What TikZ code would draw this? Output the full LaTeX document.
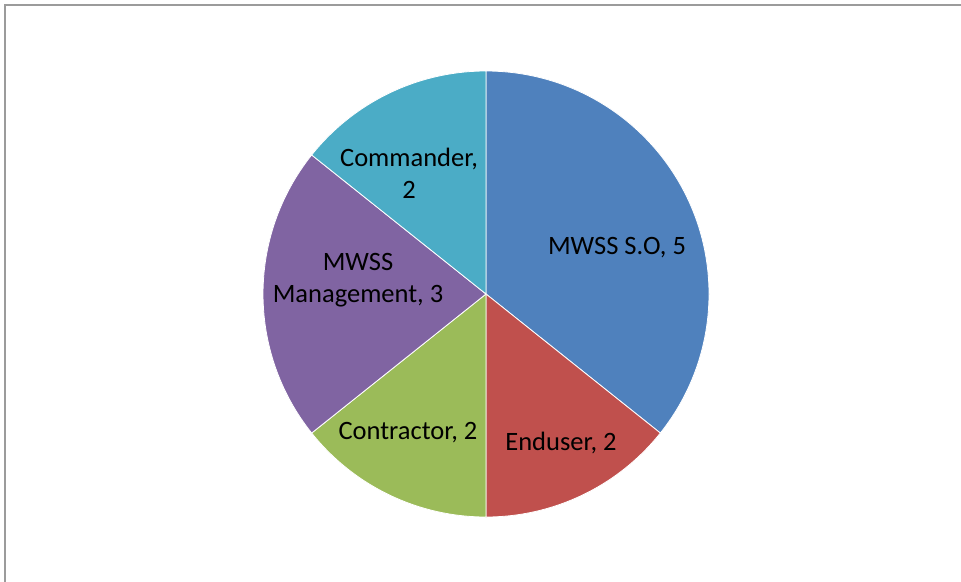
\documentclass[tikz,border=0pt]{standalone}
\usepackage{fontspec}
\setmainfont{Carlito}
\definecolor{sblue}{HTML}{4F81BD}
\definecolor{sred}{HTML}{C0504D}
\definecolor{sgreen}{HTML}{9BBB59}
\definecolor{spurple}{HTML}{8064A2}
\definecolor{saqua}{HTML}{4BACC6}
\definecolor{framegray}{RGB}{155,155,155}
\begin{document}
\begin{tikzpicture}[x=1pt,y=1pt,
  slice/.style={draw=white,line width=0.8pt,line join=round},
  lbl/.style={align=center,font=\fontsize{26.5}{32}\selectfont,text=black,inner sep=0pt}]
\useasboundingbox (0,0) rectangle (961,-581);
\begin{scope}
\clip (0,0) rectangle (961,-581);
\draw[framegray,line width=2.2pt] (5,-700) -- (5,-5) -- (1100,-5);
\end{scope}
\coordinate (c) at (486,-294);
\def\R{223}
\fill[sblue,slice] (c) -- ++(90:\R) arc[start angle=90,end angle=-38.571,radius=\R] -- cycle;
\fill[sred,slice] (c) -- ++(-38.571:\R) arc[start angle=-38.571,end angle=-90,radius=\R] -- cycle;
\fill[sgreen,slice] (c) -- ++(-90:\R) arc[start angle=-90,end angle=-141.429,radius=\R] -- cycle;
\fill[spurple,slice] (c) -- ++(-141.429:\R) arc[start angle=-141.429,end angle=-218.571,radius=\R] -- cycle;
\fill[saqua,slice] (c) -- ++(141.429:\R) arc[start angle=141.429,end angle=90,radius=\R] -- cycle;
\node[lbl] (so) at (617,-248) {MWSS S.O, 5};
\node[lbl] (cm) at (409,-173) {Commander,\\2};
\node[lbl] (mg) at (358,-280) {MWSS\\Management, 3};
\node[lbl] (ct) at (408,-433) {Contractor, 2};
\node[lbl] (eu) at (561,-443) {Enduser, 2};
\end{tikzpicture}
\end{document}
